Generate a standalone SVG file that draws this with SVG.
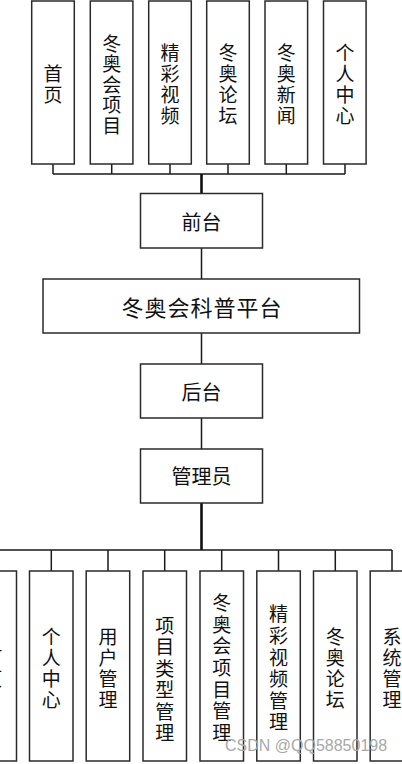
<svg xmlns="http://www.w3.org/2000/svg" width="402" height="764" viewBox="0 0 402 764">
<style>
.box{fill:#fff;stroke:#2a2a2a;stroke-width:1.5}
.ln{fill:none;stroke:#1a1a1a;stroke-width:1.5}
.tk{fill:none;stroke:#111;stroke-width:2.6}
.t{font-family:"Noto Sans CJK SC","Noto Sans CJK JP",sans-serif;font-size:19px;fill:#111;text-anchor:middle;dominant-baseline:central}
.m{font-size:20px}
.p{font-size:22px;letter-spacing:1px}
.wm{font-family:"Liberation Sans",Arial,sans-serif;font-size:16px;fill:#a8a8a8}
</style>
<rect width="402" height="764" fill="#fff"/>
<g id="connectors">
<path class="ln" d="M53 164V174M111.7 164V174M170 164V174M228 164V174M286.3 164V174M345 164V174M53 174H345"/>
<path class="tk" d="M201.5 174V193.5"/>
<path class="ln" d="M201.5 248V279M201.5 333V364M201.5 418V449"/>
<path class="tk" d="M201.5 503V550"/>
<path class="ln" d="M-10 550H392M-5.5 550V571M51.3 550V571M108 550V571M164.7 550V571M221.7 550V571M278.5 550V571M335.3 550V571M392 550V571"/>
</g>
<g id="top-home"><rect class="box" x="31.7" y="1" width="42.6" height="163"/><text class="t"><tspan x="53" y="72">首</tspan><tspan x="53" y="93">页</tspan></text></g>
<g id="top-project"><rect class="box" x="90.3" y="1" width="42.6" height="163"/><text class="t"><tspan x="111.7" y="41.5">冬</tspan><tspan x="111.7" y="62">奥</tspan><tspan x="111.7" y="82.5">会</tspan><tspan x="111.7" y="103">项</tspan><tspan x="111.7" y="123.5">目</tspan></text></g>
<g id="top-video"><rect class="box" x="148.7" y="1" width="42.6" height="163"/><text class="t"><tspan x="170" y="51">精</tspan><tspan x="170" y="72">彩</tspan><tspan x="170" y="93">视</tspan><tspan x="170" y="114">频</tspan></text></g>
<g id="top-forum"><rect class="box" x="206.7" y="1" width="42.6" height="163"/><text class="t"><tspan x="228" y="51">冬</tspan><tspan x="228" y="72">奥</tspan><tspan x="228" y="93">论</tspan><tspan x="228" y="114">坛</tspan></text></g>
<g id="top-news"><rect class="box" x="265" y="1" width="42.6" height="163"/><text class="t"><tspan x="286.3" y="51">冬</tspan><tspan x="286.3" y="72">奥</tspan><tspan x="286.3" y="93">新</tspan><tspan x="286.3" y="114">闻</tspan></text></g>
<g id="top-personal"><rect class="box" x="323.5" y="1" width="42.6" height="163"/><text class="t"><tspan x="345" y="51">个</tspan><tspan x="345" y="72">人</tspan><tspan x="345" y="93">中</tspan><tspan x="345" y="114">心</tspan></text></g>
<g id="frontend"><rect class="box" x="140.5" y="193.5" width="122" height="54.5"/><text class="t m" x="201.5" y="221">前台</text></g>
<g id="platform"><rect class="box" x="43" y="279" width="316.5" height="54"/><text class="t p" x="202" y="306">冬奥会科普平台</text></g>
<g id="backend"><rect class="box" x="140.5" y="364" width="122" height="54"/><text class="t m" x="201.5" y="391.5">后台</text></g>
<g id="admin"><rect class="box" x="140.5" y="449" width="122" height="54"/><text class="t m" x="201.5" y="475.5">管理员</text></g>
<g id="b-home"><rect class="box" x="-27" y="571" width="43.5" height="190"/><text class="t"><tspan x="-7" y="655">首</tspan><tspan x="-7" y="677">页</tspan></text></g>
<g id="b-personal"><rect class="box" x="29.5" y="571" width="43.5" height="190"/><text class="t"><tspan x="51.3" y="634.5">个</tspan><tspan x="51.3" y="655.5">人</tspan><tspan x="51.3" y="676.5">中</tspan><tspan x="51.3" y="697.5">心</tspan></text></g>
<g id="b-user"><rect class="box" x="86.2" y="571" width="43.5" height="190"/><text class="t"><tspan x="108" y="634.5">用</tspan><tspan x="108" y="655.5">户</tspan><tspan x="108" y="676.5">管</tspan><tspan x="108" y="697.5">理</tspan></text></g>
<g id="b-type"><rect class="box" x="143" y="571" width="43.5" height="190"/><text class="t"><tspan x="164.7" y="623.5">项</tspan><tspan x="164.7" y="645">目</tspan><tspan x="164.7" y="666.5">类</tspan><tspan x="164.7" y="688">型</tspan><tspan x="164.7" y="709.5">管</tspan><tspan x="164.7" y="731">理</tspan></text></g>
<g id="b-project"><rect class="box" x="200" y="571" width="43.5" height="190"/><text class="t"><tspan x="221.7" y="601">冬</tspan><tspan x="221.7" y="622.7">奥</tspan><tspan x="221.7" y="644.4">会</tspan><tspan x="221.7" y="666">项</tspan><tspan x="221.7" y="687.7">目</tspan><tspan x="221.7" y="709.4">管</tspan><tspan x="221.7" y="731">理</tspan></text></g>
<g id="b-video"><rect class="box" x="256.8" y="571" width="43.5" height="190"/><text class="t"><tspan x="278.5" y="612">精</tspan><tspan x="278.5" y="634">彩</tspan><tspan x="278.5" y="655.5">视</tspan><tspan x="278.5" y="677">频</tspan><tspan x="278.5" y="698.5">管</tspan><tspan x="278.5" y="720">理</tspan></text></g>
<g id="b-forum"><rect class="box" x="313.5" y="571" width="43.5" height="190"/><text class="t"><tspan x="335.3" y="634.5">冬</tspan><tspan x="335.3" y="655.5">奥</tspan><tspan x="335.3" y="676.5">论</tspan><tspan x="335.3" y="697.5">坛</tspan></text></g>
<g id="b-system"><rect class="box" x="370.2" y="571" width="43.5" height="190"/><text class="t"><tspan x="392" y="634.5">系</tspan><tspan x="392" y="655.5">统</tspan><tspan x="392" y="676.5">管</tspan><tspan x="392" y="697.5">理</tspan></text></g>
<text class="wm" x="225" y="751">CSDN @QQ58850198</text>
</svg>
